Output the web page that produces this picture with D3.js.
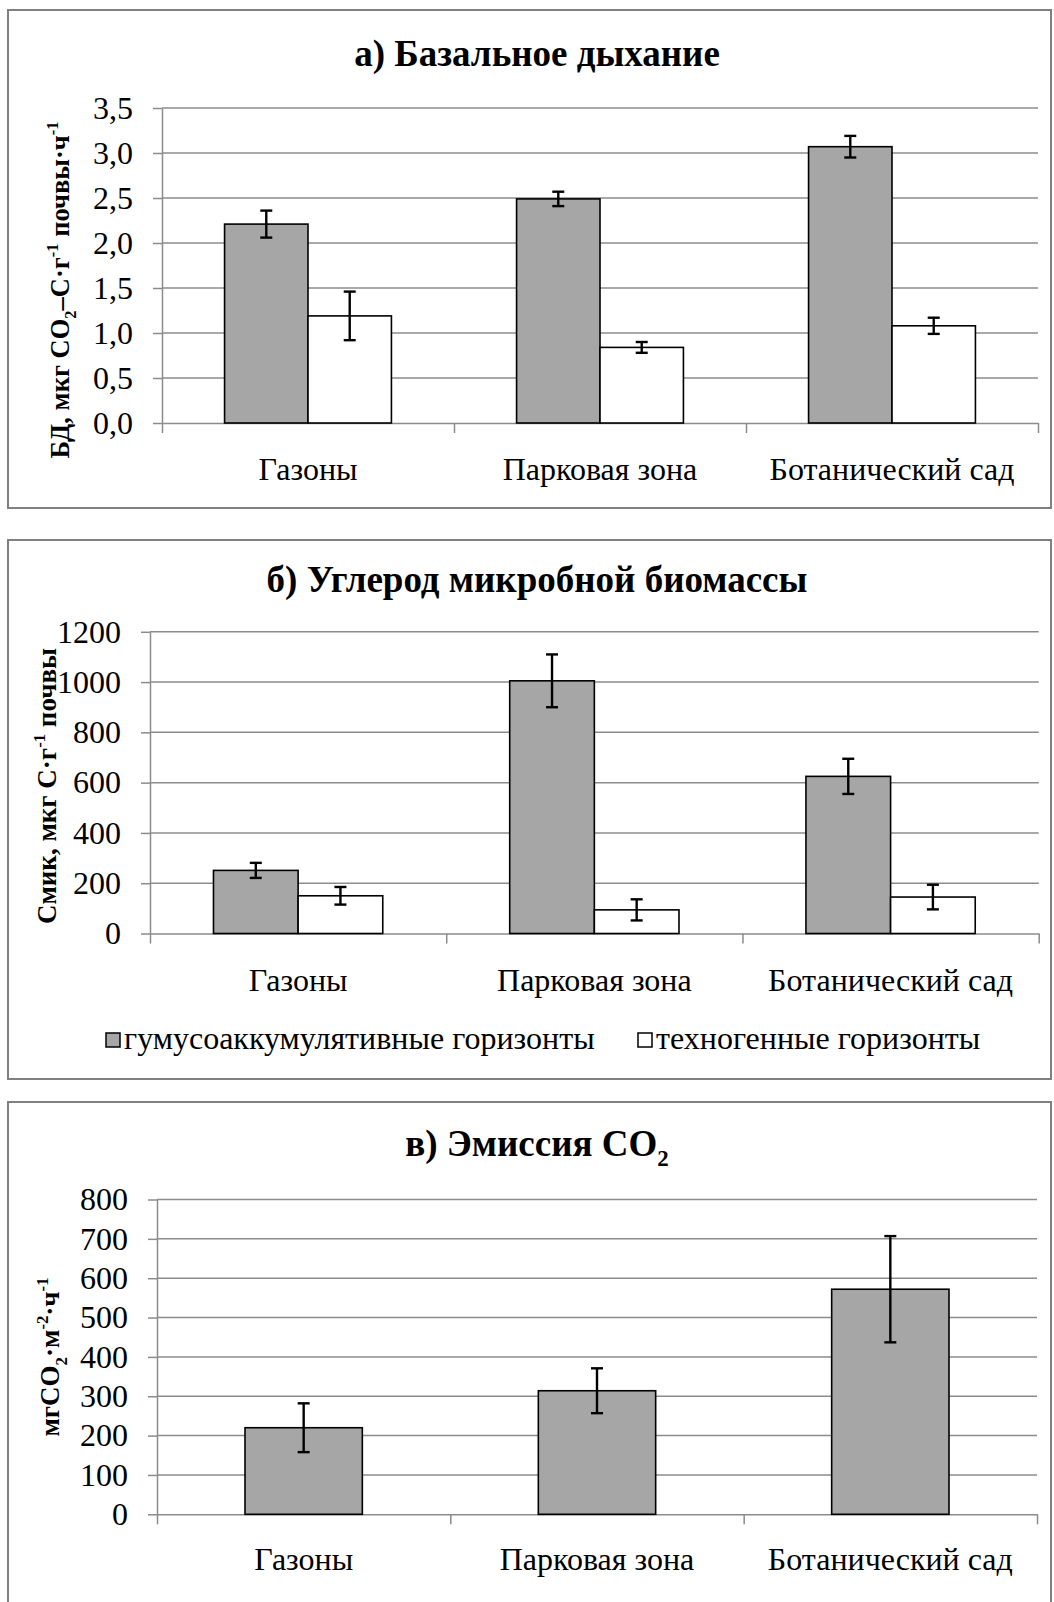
<!DOCTYPE html>
<html>
<head>
<meta charset="utf-8">
<script src="https://cdn.jsdelivr.net/npm/d3@7"></script>
<style>
  body { margin: 0; background: #fff; }
  text { font-family: 'Liberation Serif', 'Times New Roman', serif; fill: #000; }
</style>
</head>
<body>
<script>
// categories and values
var categories = ['Газоны', 'Парковая зона', 'Ботанический сад'];

var basalHumus = [2.21, 2.49, 3.07];
var basalHumusErr = [0.15, 0.08, 0.12];
var basalTechno = [1.19, 0.84, 1.08];
var basalTechnoErr = [0.27, 0.06, 0.09];
var basalTicks = [0, 0.5, 1, 1.5, 2, 2.5, 3, 3.5];

var biomassHumus = [251, 1005, 625];
var biomassHumusErr = [30, 105, 70];
var biomassTechno = [150, 94, 145];
var biomassTechnoErr = [35, 42, 49];
var biomassTicks = [0, 200, 400, 600, 800, 1000, 1200];

var emission = [220, 314, 572];
var emissionErr = [62, 57, 135];
var emissionTicks = [0, 100, 200, 300, 400, 500, 600, 700, 800];

var legendNames = ['гумусоаккумулятивные горизонты', 'техногенные горизонты'];

var width = 1054;
var height = 1602;
var gray = '#a6a6a6';
var gridColor = '#8c8c8c';
var fontSize = 32;
var titleSize = 37;

var commaFmt = d3.formatLocale({decimal: ',', thousands: '', grouping: [3], currency: ['', '']});

var svg = d3.select('body').append('svg')
    .attr('width', width)
    .attr('height', height);

// text made of pieces with sub/superscripts
function richText(sel, parts, size) {
    parts.forEach(function (p) {
        var t = sel.append('tspan').text(p[0]);
        if (p[1] == 'sub') {
            t.attr('font-size', size * 0.62).attr('dy', size * 0.28);
        } else if (p[1] == 'sup') {
            t.attr('font-size', size * 0.62).attr('dy', -size * 0.4);
        } else if (p[1] == 'back') {
            t.attr('dy', -size * 0.28);
        } else if (p[1] == 'down') {
            t.attr('dy', size * 0.4);
        }
    });
}

function drawPanel(o) {
    // frame
    svg.append('rect')
        .attr('x', 8).attr('y', o.frameTop)
        .attr('width', 1043).attr('height', o.frameBottom - o.frameTop)
        .attr('fill', 'none')
        .attr('stroke', '#808080')
        .attr('stroke-width', 2);

    var g = svg.append('g')
        .attr('transform', `translate(${o.left}, ${o.top})`);
    var chartWidth = o.right - o.left;
    var chartHeight = o.bottom - o.top;

    var yScale = d3.scaleLinear()
        .domain([0, d3.max(o.ticks)])
        .range([chartHeight, 0]);

    var x0 = d3.scaleBand()
        .domain(categories)
        .range([0, chartWidth])
        .padding(0);

    var band = x0.bandwidth();
    var n = o.series.length;
    var barW = n == 2 ? band / 3.5 : band / 2.5;
    var x1 = d3.scaleBand()
        .domain(d3.range(n))
        .range([band / 2 - barW * n / 2, band / 2 + barW * n / 2]);

    // gridlines
    g.append('g').selectAll('line')
        .data(o.ticks.filter(d => d > 0))
        .enter().append('line')
        .attr('x1', 0).attr('x2', chartWidth)
        .attr('y1', d => yScale(d)).attr('y2', d => yScale(d))
        .attr('stroke', gridColor)
        .attr('stroke-width', 1.5);

    // y axis
    var yAxis_g = g.append('g')
        .call(d3.axisLeft(yScale).tickValues(o.ticks).tickSize(9).tickSizeOuter(0).tickPadding(20).tickFormat(o.fmt));
    yAxis_g.select('.domain').attr('stroke', gridColor).attr('stroke-width', 1.5);
    yAxis_g.selectAll('.tick line').attr('stroke', gridColor).attr('stroke-width', 1.5);
    yAxis_g.selectAll('.tick text')
        .attr('font-size', fontSize)
        .attr('font-family', 'Liberation Serif')
        .attr('fill', '#000');

    // x axis: boundary ticks
    var xb = d3.scaleLinear().domain([0, categories.length]).range([0, chartWidth]);
    var xAxis_g = g.append('g')
        .attr('transform', `translate(0, ${chartHeight})`)
        .call(d3.axisBottom(xb).tickValues(d3.range(categories.length + 1)).tickSize(10).tickSizeOuter(0).tickFormat(''));
    xAxis_g.select('.domain').attr('stroke', gridColor).attr('stroke-width', 1.5);
    xAxis_g.selectAll('.tick line').attr('stroke', gridColor).attr('stroke-width', 1.5);

    // category labels
    var labels_g = g.append('g')
        .attr('transform', `translate(0, ${chartHeight})`)
        .call(d3.axisBottom(x0).tickSize(0).tickPadding(0));
    labels_g.select('.domain').remove();
    labels_g.selectAll('.tick text')
        .attr('dy', null)
        .attr('y', o.catOffset)
        .attr('font-size', fontSize)
        .attr('font-family', 'Liberation Serif')
        .attr('fill', '#000');

    // bars
    o.series.forEach(function (s, si) {
        var barGroup = g.append('g');
        barGroup.selectAll('rect')
            .data(s.values)
            .enter().append('rect')
            .attr('x', (d, i) => x0(categories[i]) + x1(si))
            .attr('y', d => yScale(d))
            .attr('width', x1.bandwidth())
            .attr('height', d => chartHeight - yScale(d))
            .attr('fill', s.fill)
            .attr('stroke', '#000')
            .attr('stroke-width', 1.6);
    });

    // error bars
    o.series.forEach(function (s, si) {
        var errGroup = g.append('g')
            .attr('stroke', '#000')
            .attr('stroke-width', 2.4);
        s.values.forEach(function (v, i) {
            var cx = x0(categories[i]) + x1(si) + x1.bandwidth() / 2;
            var e = s.errors[i];
            errGroup.append('line')
                .attr('x1', cx).attr('x2', cx)
                .attr('y1', yScale(v + e)).attr('y2', yScale(v - e));
            [v + e, v - e].forEach(function (c) {
                errGroup.append('line')
                    .attr('x1', cx - 6).attr('x2', cx + 6)
                    .attr('y1', yScale(c)).attr('y2', yScale(c));
            });
        });
    });

    // title
    var title = svg.append('text')
        .attr('x', 537)
        .attr('y', o.titleY)
        .attr('text-anchor', 'middle')
        .attr('font-size', titleSize)
        .attr('font-weight', 'bold');
    richText(title, o.title, titleSize);

    // y axis title
    var yl = svg.append('text')
        .attr('transform', `translate(${o.yLabelX}, ${o.yLabelY}) rotate(-90)`)
        .attr('text-anchor', 'middle')
        .attr('font-size', o.yLabelSize)
        .attr('font-weight', 'bold');
    richText(yl, o.yLabel, o.yLabelSize);
}

drawPanel({
    frameTop: 10, frameBottom: 508,
    left: 162, right: 1038, top: 108, bottom: 423,
    ticks: basalTicks,
    fmt: commaFmt.format('.1f'),
    series: [
        {values: basalHumus, errors: basalHumusErr, fill: gray},
        {values: basalTechno, errors: basalTechnoErr, fill: '#fff'}
    ],
    catOffset: 57,
    title: [['а) Базальное дыхание']],
    titleY: 66,
    yLabel: [['БД, мкг CO'], ['2', 'sub'], ['–C·г', 'back'], ['-1', 'sup'], [' почвы·ч', 'down'], ['-1', 'sup']],
    yLabelX: 69, yLabelY: 290, yLabelSize: 26.5
});

drawPanel({
    frameTop: 540, frameBottom: 1079,
    left: 150, right: 1038.7, top: 631.8, bottom: 933.5,
    ticks: biomassTicks,
    fmt: d3.format('d'),
    series: [
        {values: biomassHumus, errors: biomassHumusErr, fill: gray},
        {values: biomassTechno, errors: biomassTechnoErr, fill: '#fff'}
    ],
    catOffset: 57.5,
    title: [['б) Углерод микробной биомассы']],
    titleY: 592,
    yLabel: [['Смик, мкг С·г'], ['-1', 'sup'], [' почвы', 'down']],
    yLabelX: 56, yLabelY: 786, yLabelSize: 27
});

drawPanel({
    frameTop: 1102, frameBottom: 1640,
    left: 157, right: 1037, top: 1199.5, bottom: 1514.3,
    ticks: emissionTicks,
    fmt: d3.format('d'),
    series: [
        {values: emission, errors: emissionErr, fill: gray}
    ],
    catOffset: 56,
    title: [['в) Эмиссия CO'], ['2', 'sub']],
    titleY: 1156,
    yLabel: [['мгCO'], ['2', 'sub'], ['·м', 'back'], ['-2', 'sup'], ['·ч', 'down'], ['-1', 'sup']],
    yLabelX: 59, yLabelY: 1357, yLabelSize: 27
});

// legend of panel б
var legend = svg.append('g');
[gray, '#fff'].forEach(function (c, i) {
    var lx = i == 0 ? 106 : 638;
    legend.append('rect')
        .attr('x', lx).attr('y', 1033)
        .attr('width', 14).attr('height', 14)
        .attr('fill', c)
        .attr('stroke', '#000')
        .attr('stroke-width', 1.5);
    legend.append('text')
        .attr('x', lx + 18)
        .attr('y', 1049)
        .attr('font-size', fontSize)
        .text(legendNames[i]);
});
</script>
</body>
</html>
